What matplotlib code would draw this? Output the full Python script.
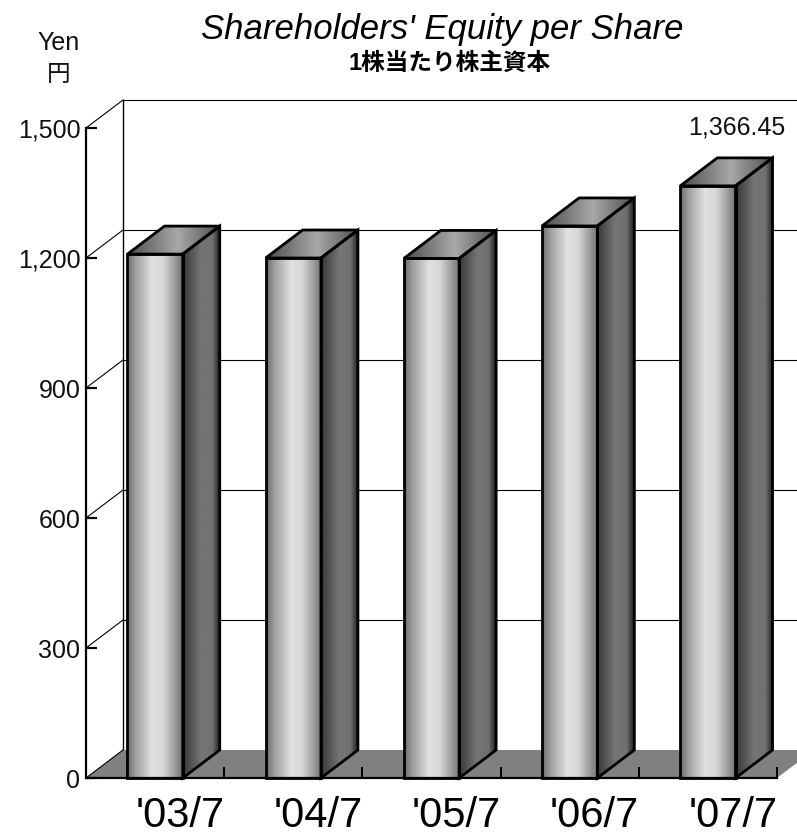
import matplotlib
matplotlib.use('Agg')
import matplotlib.pyplot as plt
import numpy as np
from matplotlib.patches import Polygon

plt.rcParams['font.family'] = ['Liberation Sans', 'Noto Sans CJK JP']

periods = ["'03/7", "'04/7", "'05/7", "'06/7", "'07/7"]
equity = [1209, 1200, 1199, 1274, 1366.45]
y_ticks = [0, 300, 600, 900, 1200, 1500]
y_labels = ['0', '300', '600', '900', '1,200', '1,500']

W, H = 797, 835
BAR = 0.4
DX = 37 / 138.2    # depth of the box in category units
DY = 28 / (650 / 1500)    # depth of the box in yen


def shade(stops, levels):
    return np.interp(np.linspace(0, 1, 128), stops, levels).reshape(1, -1)


front_shade = shade([0, 0.15, 0.45, 0.65, 1], [0.42, 0.62, 0.88, 0.84, 0.45])
side_shade = shade([0, 0.5, 0.8, 1], [0.22, 0.46, 0.44, 0.12])
top_shade = shade([0, 0.55, 1], [0.30, 0.66, 0.30])


def face(ax, pts, gray, lw=2.0):
    pts = np.array(pts)
    poly = Polygon(pts, closed=True, fc='none', ec='black', lw=lw, joinstyle='miter',
                   clip_on=False, zorder=5)
    ax.add_patch(poly)
    im = ax.imshow(gray, cmap='gray', vmin=0, vmax=1, aspect='auto', zorder=4,
                   extent=(pts[:, 0].min(), pts[:, 0].max(), pts[:, 1].min(), pts[:, 1].max()))
    im.set_clip_box(ax.figure.bbox)
    im.set_clip_path(poly)


fig = plt.figure(figsize=(W / 100, H / 100), dpi=100)
ax = fig.add_axes([86 / W, (H - 778) / H, 691 / W, 650 / H])

# back wall, grid and floor
for t in y_ticks[1:]:
    ax.plot([-0.5, -0.5 + DX], [t, t + DY], color='black', lw=0.8, clip_on=False, zorder=1)
    ax.plot([-0.5 + DX, 4.5 + DX], [t + DY, t + DY], color='black', lw=0.8, clip_on=False, zorder=1)
ax.plot([-0.5 + DX, -0.5 + DX], [DY, 1500 + DY], color='black', lw=1.0, clip_on=False, zorder=1)
ax.add_patch(Polygon([(-0.5, 0), (-0.5 + DX, DY), (4.5 + DX, DY), (4.5, 0)], closed=True,
                     fc='#808080', ec='none', clip_on=False, zorder=2))
ax.plot([-0.5, -0.5 + DX], [0, DY], color='black', lw=0.8, clip_on=False, zorder=3)

# bars
for i, v in enumerate(equity):
    l, r = i - BAR / 2, i + BAR / 2
    face(ax, [(r, 0), (r + DX, DY), (r + DX, v + DY), (r, v)], side_shade)
    face(ax, [(l, v), (r, v), (r + DX, v + DY), (l + DX, v + DY)], top_shade)
    face(ax, [(l, 0), (r, 0), (r, v), (l, v)], front_shade)

ax.text(4 + 0.21, equity[-1] + DY + 71, '1,366.45', fontsize=18, ha='center', va='center',
        color='#111111', clip_on=False)

ax.set_xlim(-0.5, 4.5)
ax.set_ylim(0, 1500)
ax.set_axisbelow(False)
ax.patch.set_alpha(0)
for s in ['top', 'right']:
    ax.spines[s].set_visible(False)
for s in ['left', 'bottom']:
    ax.spines[s].set_linewidth(1.6)
    ax.spines[s].set_zorder(6)

ax.set_yticks(y_ticks)
ax.set_yticklabels(y_labels, fontsize=18, color='#111111')
ax.tick_params(axis='y', direction='in', length=8, width=1.6, pad=4)
ax.set_xticks(np.arange(5) + 0.5)
ax.set_xticklabels([])
ax.tick_params(axis='x', direction='in', length=8, width=1.4)
ax.set_xticks(np.arange(5) + 0.18, minor=True)
ax.set_xticklabels(periods, minor=True, fontsize=30)
ax.tick_params(axis='x', which='minor', length=0, pad=13)

fig.text(442 / W, 1 - 30 / H, "Shareholders' Equity per Share", fontsize=25, style='italic',
         ha='center', va='center')
fig.text(450 / W, 1 - 63 / H, '1株当たり株主資本', fontsize=17, weight='bold', ha='center', va='center')
fig.text(59 / W, 1 - 43 / H, 'Yen', fontsize=18, ha='center', va='center', color='#111111')
fig.text(59 / W, 1 - 75 / H, '円', fontsize=17, ha='center', va='center', color='#111111')

fig.savefig('out.png', dpi=100)
